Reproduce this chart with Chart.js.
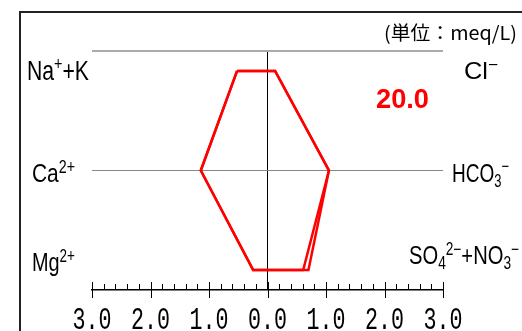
<!DOCTYPE html>
<html>
<head>
<meta charset="utf-8">
<script src="https://cdn.jsdelivr.net/npm/chart.js@4/dist/chart.umd.min.js"></script>
<style>
  body { margin: 0; background: #fff; }
  canvas { display: block; }
</style>
</head>
<body>
<canvas id="myChart" width="522" height="331"></canvas>
<script>
// ion names (^{} = superscript, _{} = subscript)
var cationNames = ['Na^{+}+K', 'Ca^{2+}', 'Mg^{2+}'];
var anionNames = ['Cl^{−}', 'HCO_{3}^{−}', 'SO_{4}^{2−}+NO_{3}^{−}'];
// meq/L
var cationValues = [0.52, 1.14, 0.245];
var anionValues = [0.13, 1.05, 0.70];
var anionValues2 = [0.13, 1.05, 0.61];
var xTicks = [-3, -2, -1, 0, 1, 2, 3];
var totalLabel = '20.0';
var unitLabel = '(単位：meq/L)';

function polygon(cat, an) {
  var pts = [];
  for (var i = 0; i < cat.length; i++) pts.push({x: -cat[i], y: i + 1});
  for (var j = an.length - 1; j >= 0; j--) pts.push({x: an[j], y: j + 1});
  pts.push({x: -cat[0], y: 1});
  return pts;
}

function parseRich(s) {
  var out = [];
  s.split(/(\^\{[^}]*\}|_\{[^}]*\})/).forEach(function(p){
    if (!p) return;
    if (p[0] === '^') out.push([p.slice(2, -1), 1]);
    else if (p[0] === '_') out.push([p.slice(2, -1), -1]);
    else out.push([p, 0]);
  });
  return out;
}

function drawRich(ctx, str, x, base, size, family, width, weight) {
  var parts = parseRich(str);
  var total = 0, ws = [];
  parts.forEach(function(p){
    ctx.font = (weight || '') + ' ' + (p[1] ? size * 0.68 : size) + 'px ' + family;
    var w = ctx.measureText(p[0]).width;
    ws.push(w); total += w;
  });
  ctx.save();
  ctx.translate(x, base);
  ctx.scale(width / total, 1);
  ctx.textBaseline = 'alphabetic';
  ctx.textAlign = 'left';
  var cx = 0;
  parts.forEach(function(p, k){
    ctx.font = (weight || '') + ' ' + (p[1] ? size * 0.68 : size) + 'px ' + family;
    var dy = p[1] === 1 ? -size * 0.36 : (p[1] === -1 ? size * 0.2 : 0);
    ctx.fillText(p[0], cx, dy);
    cx += ws[k];
  });
  ctx.restore();
}

var stiffPlugin = {
  id: 'stiff',
  afterDraw: function(chart) {
    var ctx = chart.ctx, xs = chart.scales.x, ys = chart.scales.y;
    var y0 = chart.chartArea.bottom;
    ctx.save();
    // frame
    ctx.strokeStyle = '#222';
    ctx.lineWidth = 2;
    ctx.beginPath();
    ctx.moveTo(20, 340); ctx.lineTo(20, 12); ctx.lineTo(530, 12);
    ctx.stroke();
    // axis tick marks
    ctx.strokeStyle = '#000';
    ctx.lineWidth = 1;
    for (var k = -15; k <= 15; k++) {
      var px = Math.round(xs.getPixelForValue(k / 5)) + 0.5;
      ctx.beginPath();
      if (k % 5 === 0) { ctx.moveTo(px, y0 - 8); ctx.lineTo(px, y0 + 8); }
      else { ctx.moveTo(px, y0 - 6); ctx.lineTo(px, y0); }
      ctx.stroke();
    }
    ctx.fillStyle = '#000';
    // tick labels
    xs.ticks.forEach(function(t){
      var px = xs.getPixelForValue(t.value);
      drawRich(ctx, Math.abs(t.value).toFixed(1), px - 19.5, 329, 31, '"Liberation Mono"', 39);
    });
    // ion labels
    var fam = '"Liberation Sans"';
    drawRich(ctx, cationNames[0], 27, ys.getPixelForValue(1) + 9, 28, fam, 62);
    drawRich(ctx, cationNames[1], 32, ys.getPixelForValue(2) + 11.5, 26, fam, 43);
    drawRich(ctx, cationNames[2], 32, ys.getPixelForValue(3) + 1, 26, fam, 43);
    drawRich(ctx, anionNames[0], 464, ys.getPixelForValue(1) + 8, 24, fam, 34);
    drawRich(ctx, anionNames[1], 452, ys.getPixelForValue(2) + 11, 26, fam, 57);
    drawRich(ctx, anionNames[2], 409, ys.getPixelForValue(3) - 6, 26, fam, 110);
    // total and unit
    ctx.fillStyle = '#ff0000';
    drawRich(ctx, totalLabel, 376, 108, 28, fam, 53, 'bold');
    ctx.fillStyle = '#000';
    drawRich(ctx, unitLabel, 384, 40, 19, '"Noto Sans CJK JP"', 133);
    ctx.restore();
  }
};

var ctx = document.getElementById('myChart');

var stiffChart = new Chart(ctx, {
  type: 'scatter',
  data: {
    datasets: [
      {
        data: polygon(cationValues, anionValues2),
        showLine: true,
        borderColor: '#ff0000',
        borderWidth: 2.5,
        pointRadius: 0,
        fill: false
      },
      {
        data: polygon(cationValues, anionValues),
        showLine: true,
        borderColor: '#ff0000',
        borderWidth: 2.5,
        pointRadius: 0,
        fill: false
      }
    ]
  },
  options: {
    responsive: false,
    animation: false,
    layout: { padding: { left: 92, right: 79, top: 51, bottom: 0 } },
    plugins: { legend: { display: false }, tooltip: { enabled: false } },
    scales: {
      x: {
        type: 'linear',
        min: -3,
        max: 3,
        afterBuildTicks: function(s){ s.ticks = xTicks.map(function(v){ return {value: v}; }); },
        ticks: { display: false },
        grid: {
          drawTicks: false,
          color: function(c){ return c.tick && c.tick.value === 0 ? '#000' : 'rgba(0,0,0,0)'; },
          lineWidth: 1
        },
        border: { display: true, color: '#000', width: 1.5 },
        afterFit: function(s){ s.height = 41; }
      },
      y: {
        type: 'linear',
        min: 0.8,
        max: 3.2,
        reverse: true,
        afterBuildTicks: function(s){ s.ticks = [{value: 0.8}, {value: 2}]; },
        ticks: { display: false },
        grid: {
          drawTicks: false,
          color: function(c){ return c.tick && c.tick.value === 2 ? '#888' : '#aaa'; },
          lineWidth: function(c){ return c.tick && c.tick.value === 2 ? 1 : 2; }
        },
        border: { display: false },
        afterFit: function(s){ s.width = 0; }
      }
    }
  },
  plugins: [stiffPlugin]
});
</script>
</body>
</html>
